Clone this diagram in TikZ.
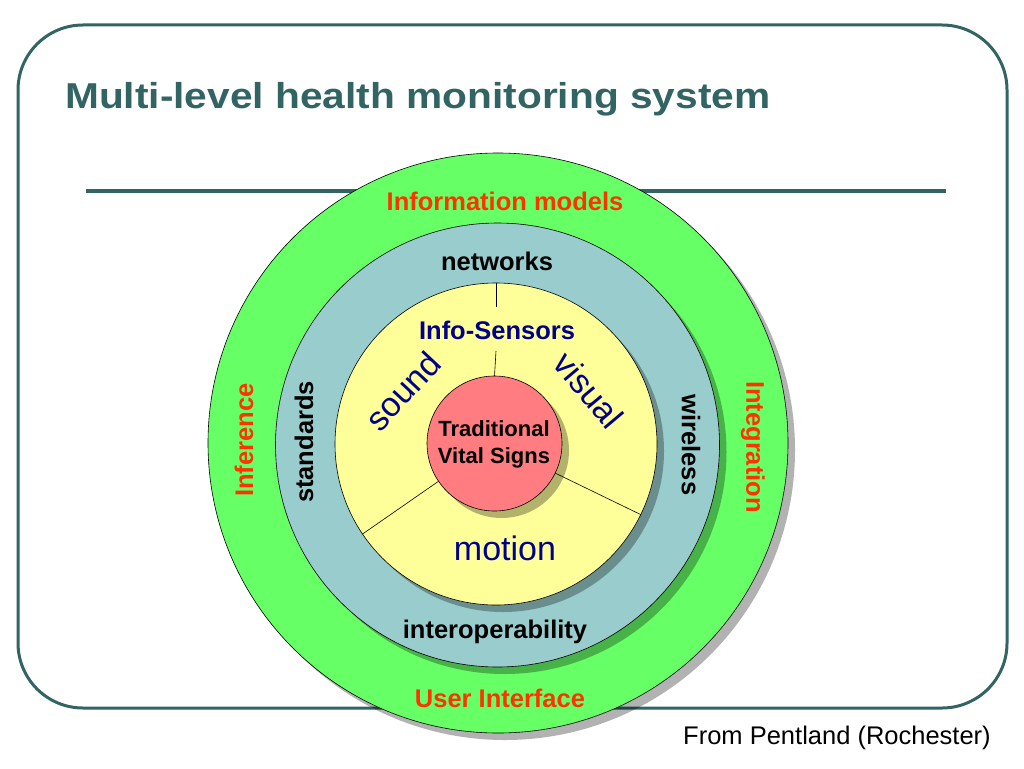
\documentclass[tikz,border=0pt]{standalone}
\usepackage{fontspec}
\setmainfont{Liberation Sans}
\usetikzlibrary{shadows}
\definecolor{frameteal}{RGB}{50,100,100}
\definecolor{ringgreen}{RGB}{102,255,102}
\definecolor{ringteal}{RGB}{153,204,204}
\definecolor{ringyellow}{RGB}{255,255,153}
\definecolor{ringred}{RGB}{255,124,128}
\definecolor{labelorange}{RGB}{255,51,0}
\definecolor{labelnavy}{RGB}{0,0,140}
\tikzset{
  ring/.style={circle, draw=black, line width=0.6pt, outer sep=0pt, inner sep=0pt,
    drop shadow={opacity=0.3, shadow xshift=7pt, shadow yshift=-7pt, fill=black}},
  divider/.style={draw=black, line width=0.6pt},
  boldlabel/.style={font=\fontsize{25.5}{29}\selectfont\bfseries, inner sep=1pt},
  outerlabel/.style={boldlabel, text=labelorange},
  sensorlabel/.style={font=\fontsize{34}{38}\selectfont, text=labelnavy, inner sep=1pt},
}
\begin{document}
\begin{tikzpicture}[x=1pt,y=-1pt]
\useasboundingbox (0,0) rectangle (1024,768);
% frame and rule
\draw[frameteal, line width=3pt, rounded corners=65pt] (18,25) rectangle (1007,708);
\node[anchor=west, inner sep=0pt, text=frameteal, font=\fontsize{36}{40}\selectfont\bfseries] (title) at (65,99)
  {\scalebox{1.13}[1]{Multi-level health monitoring system}};
\coordinate (ruleL) at (86,191);
\coordinate (ruleR) at (946,191);
\draw[frameteal, line width=4pt] (ruleL) -- (ruleR);
% rings
\node[ring, fill=ringgreen, minimum size=580pt] (green) at (498,443) {};
\node[ring, fill=ringteal, minimum size=444pt] (teal) at (497.5,445) {};
\node[ring, fill=ringyellow, minimum size=322pt] (yellow) at (496,444) {};
\node[ring, fill=ringred, minimum size=135pt] (red) at (494.5,443.5) {};
% dividers between the sensor sectors
\coordinate (gapTop) at (496,307);
\coordinate (gapBot) at (496,351);
\draw[divider] (yellow.90) -- (gapTop);
\draw[divider] (gapBot) -- (red.90);
\draw[divider] (red.214) -- (yellow.214);
\draw[divider] (red.-26) -- (yellow.-26);
% labels
\node[outerlabel] (infomodels) at (505,201) {Information models};
\node[outerlabel] (userif) at (500,698) {User Interface};
\node[outerlabel, rotate=90] (inference) at (244,440) {Inference};
\node[outerlabel, rotate=-90] (integration) at (753,447) {Integration};
\node[boldlabel] (networks) at (497,261) {networks};
\node[boldlabel] (interop) at (495,632) {interoperability};
\node[boldlabel, rotate=90] (standards) at (304,442) {standards};
\node[boldlabel, rotate=-90] (wireless) at (691,445) {wireless};
\node[boldlabel, text=labelnavy] (infosensors) at (497,330) {Info-Sensors};
\node[sensorlabel, rotate=47] (sound) at (403,391) {sound};
\node[sensorlabel, rotate=-50] (visual) at (589,390) {visual};
\node[sensorlabel] (motion) at (505,548) {motion};
\node[align=center, font=\fontsize{22}{27}\selectfont\bfseries, inner sep=0pt] (vital) at (494,444) {Traditional\\Vital Signs};
\node[font=\fontsize{25.5}{29}\selectfont, inner sep=0pt] (source) at (837,738) {From Pentland (Rochester)};
\end{tikzpicture}
\end{document}
